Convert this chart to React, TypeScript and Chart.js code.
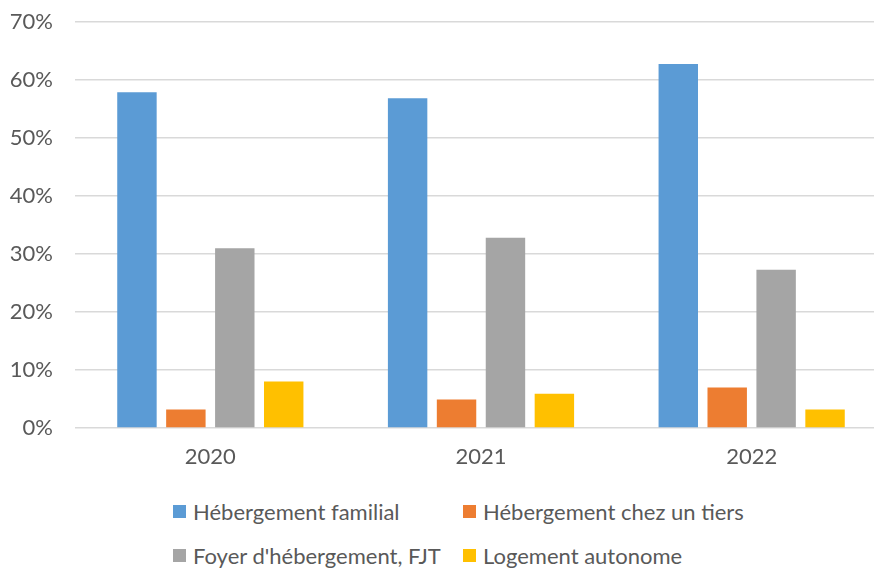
import React, { useEffect, useRef } from "react";
import { Chart, registerables } from "chart.js";

Chart.register(...registerables);

const categories = ["2020", "2021", "2022"];
const seriesNames = [
  "Hébergement familial",
  "Hébergement chez un tiers",
  "Foyer d'hébergement, FJT",
  "Logement autonome",
];
const familial = [57.9, 56.9, 62.8];
const tiers = [3.2, 4.9, 7.0];
const foyer = [31.0, 32.8, 27.3];
const autonome = [8.0, 5.9, 3.2];
const seriesColors = ["#5B9BD5", "#ED7D31", "#A5A5A5", "#FFC000"];
const yMax = 70;
const yStep = 10;

const FONT = "Lato, 'Open Sans', sans-serif";
const TEXT = "#595959";

export default function App() {
  const ref = useRef<HTMLCanvasElement | null>(null);

  useEffect(() => {
    if (!ref.current) return;
    const values = [familial, tiers, foyer, autonome];
    const chart = new Chart(ref.current, {
      type: "bar",
      data: {
        labels: categories,
        datasets: seriesNames.map((name, i) => ({
          label: name,
          data: values[i],
          backgroundColor: seriesColors[i],
          borderWidth: 0,
          categoryPercentage: 0.723,
          barPercentage: 0.806,
        })),
      },
      options: {
        animation: false,
        responsive: false,
        devicePixelRatio: 1,
        layout: { padding: { top: 8, right: 13, left: 0, bottom: 0 } },
        plugins: {
          legend: { display: false },
          tooltip: { enabled: false },
        },
        scales: {
          x: {
            grid: { display: false },
            border: { display: false },
            ticks: {
              color: TEXT,
              font: { family: FONT, size: 22 },
              padding: 8,
            },
            afterFit: (s: any) => {
              s.height = 39;
            },
          },
          y: {
            min: 0,
            max: yMax,
            border: { display: false },
            grid: { color: "#D9D9D9", lineWidth: 1.5, drawTicks: false },
            ticks: {
              stepSize: yStep,
              color: TEXT,
              font: { family: FONT, size: 22 },
              padding: 22,
              callback: (v: any) => v + "%",
            },
            afterFit: (s: any) => {
              s.width = 75;
            },
          },
        },
      },
    });
    return () => chart.destroy();
  }, []);

  const legendPos = [
    { left: 173, top: 504 },
    { left: 463, top: 504 },
    { left: 173, top: 548 },
    { left: 463, top: 548 },
  ];

  return (
    <div
      style={{
        position: "fixed",
        left: 0,
        top: 0,
        width: 874,
        height: 568,
        overflow: "hidden",
        background: "#fff",
      }}
    >
      <canvas ref={ref} width={900} height={480} style={{ position: "absolute", left: 0, top: -13 }} />
      {seriesNames.map((name, i) => (
        <div
          key={name}
          style={{
            position: "absolute",
            left: legendPos[i].left,
            top: legendPos[i].top - 6,
            height: 26,
            display: "flex",
            alignItems: "center",
            fontFamily: FONT,
            fontSize: 22,
            color: TEXT,
            whiteSpace: "nowrap",
          }}
        >
          <span
            style={{
              display: "inline-block",
              width: 13,
              height: 13,
              background: seriesColors[i],
              marginRight: 7,
            }}
          />
          <span>{name}</span>
        </div>
      ))}
    </div>
  );
}
